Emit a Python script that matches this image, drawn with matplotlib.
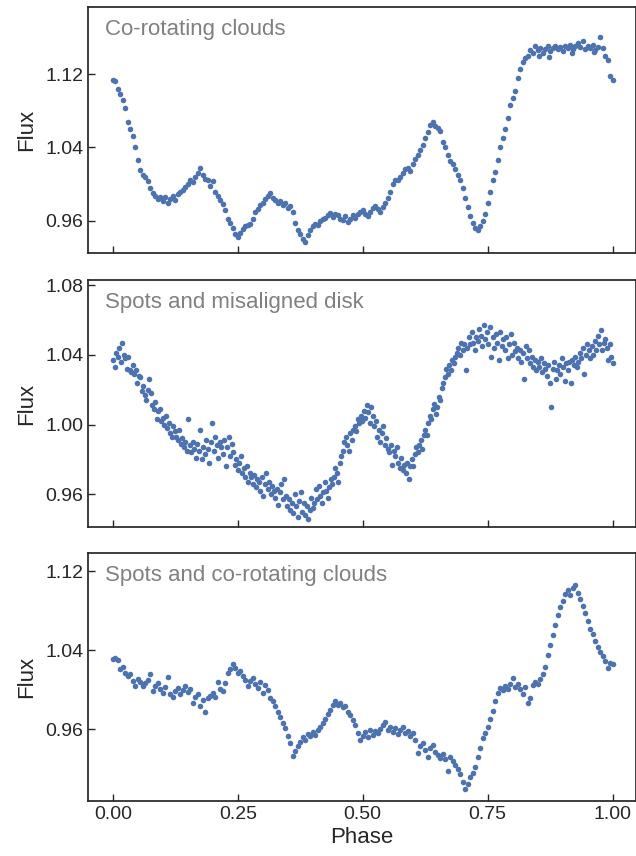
import numpy as np
import matplotlib
matplotlib.use("Agg")
import matplotlib.pyplot as plt

# (phase, flux)
clouds_pts = [
    (0.000, 1.114), (0.005, 1.112), (0.010, 1.104), (0.015, 1.098), (0.020, 1.092),
    (0.025, 1.083), (0.030, 1.068), (0.035, 1.060), (0.040, 1.052), (0.045, 1.040),
    (0.050, 1.026), (0.055, 1.015), (0.060, 1.010), (0.065, 1.008), (0.070, 1.003),
    (0.075, 0.996), (0.080, 0.990), (0.085, 0.987), (0.090, 0.984), (0.095, 0.986),
    (0.100, 0.982), (0.105, 0.986), (0.110, 0.980), (0.115, 0.984), (0.120, 0.987),
    (0.125, 0.983), (0.130, 0.989), (0.135, 0.992), (0.140, 0.994), (0.145, 0.997),
    (0.150, 1.000), (0.155, 1.004), (0.160, 1.002), (0.165, 1.008), (0.170, 1.012),
    (0.175, 1.018), (0.180, 1.010), (0.185, 1.006), (0.190, 1.004), (0.195, 0.998),
    (0.200, 1.003), (0.205, 0.992), (0.210, 0.987), (0.215, 0.983), (0.220, 0.978),
    (0.225, 0.972), (0.230, 0.962), (0.235, 0.958), (0.240, 0.952), (0.245, 0.946),
    (0.250, 0.942), (0.255, 0.947), (0.260, 0.951), (0.265, 0.954), (0.270, 0.956),
    (0.275, 0.957), (0.280, 0.962), (0.285, 0.970), (0.290, 0.973), (0.295, 0.977),
    (0.300, 0.980), (0.305, 0.984), (0.310, 0.987), (0.315, 0.990), (0.320, 0.985),
    (0.325, 0.983), (0.330, 0.980), (0.335, 0.982), (0.340, 0.977), (0.345, 0.979),
    (0.350, 0.974), (0.355, 0.976), (0.360, 0.970), (0.365, 0.958), (0.370, 0.950),
    (0.375, 0.946), (0.380, 0.940), (0.385, 0.937), (0.390, 0.945), (0.395, 0.950),
    (0.400, 0.954), (0.405, 0.957), (0.410, 0.955), (0.415, 0.960), (0.420, 0.962),
    (0.425, 0.963), (0.430, 0.966), (0.435, 0.969), (0.440, 0.964), (0.445, 0.968),
    (0.450, 0.966), (0.455, 0.962), (0.460, 0.961), (0.465, 0.965), (0.470, 0.959),
    (0.475, 0.962), (0.480, 0.966), (0.485, 0.963), (0.490, 0.967), (0.495, 0.970),
    (0.500, 0.972), (0.505, 0.968), (0.510, 0.965), (0.515, 0.970), (0.520, 0.974),
    (0.525, 0.976), (0.530, 0.973), (0.535, 0.970), (0.540, 0.975), (0.545, 0.980),
    (0.550, 0.985), (0.555, 0.992), (0.560, 1.000), (0.565, 1.005), (0.570, 1.004),
    (0.575, 1.008), (0.580, 1.012), (0.585, 1.016), (0.590, 1.018), (0.595, 1.014),
    (0.600, 1.022), (0.605, 1.027), (0.610, 1.032), (0.615, 1.037), (0.620, 1.043),
    (0.625, 1.050), (0.630, 1.057), (0.635, 1.064), (0.640, 1.068), (0.645, 1.063),
    (0.650, 1.061), (0.655, 1.058), (0.660, 1.046), (0.665, 1.040), (0.670, 1.032),
    (0.675, 1.025), (0.680, 1.022), (0.685, 1.016), (0.690, 1.010), (0.695, 1.004),
    (0.700, 0.996), (0.705, 0.985), (0.710, 0.975), (0.715, 0.965), (0.720, 0.958),
    (0.725, 0.952), (0.730, 0.950), (0.735, 0.954), (0.740, 0.960), (0.745, 0.968),
    (0.750, 0.980), (0.755, 0.992), (0.760, 1.004), (0.765, 1.013), (0.770, 1.026),
    (0.775, 1.041), (0.780, 1.050), (0.785, 1.060), (0.790, 1.072), (0.795, 1.086),
    (0.800, 1.094), (0.805, 1.102), (0.810, 1.116), (0.815, 1.126), (0.820, 1.133),
    (0.825, 1.137), (0.830, 1.140), (0.835, 1.146), (0.840, 1.143), (0.845, 1.150),
    (0.850, 1.146), (0.852, 1.140), (0.855, 1.148), (0.860, 1.143), (0.865, 1.147),
    (0.870, 1.150), (0.872, 1.139), (0.875, 1.145), (0.880, 1.148), (0.885, 1.151),
    (0.890, 1.147), (0.895, 1.149), (0.900, 1.145), (0.905, 1.150), (0.910, 1.148),
    (0.915, 1.152), (0.918, 1.143), (0.920, 1.147), (0.925, 1.150), (0.930, 1.154),
    (0.935, 1.149), (0.940, 1.156), (0.945, 1.147), (0.950, 1.151), (0.955, 1.148),
    (0.960, 1.152), (0.962, 1.144), (0.965, 1.146), (0.970, 1.149), (0.975, 1.160),
    (0.980, 1.148), (0.985, 1.140), (0.990, 1.135), (0.995, 1.118), (1.000, 1.114),
]

disk_pts = [
    (0.000, 1.037), (0.004, 1.033), (0.007, 1.041), (0.010, 1.039), (0.013, 1.044),
    (0.016, 1.036), (0.019, 1.047), (0.022, 1.040), (0.025, 1.038), (0.028, 1.032),
    (0.031, 1.039), (0.034, 1.031), (0.037, 1.030), (0.040, 1.034), (0.043, 1.029),
    (0.046, 1.031), (0.049, 1.024), (0.052, 1.028), (0.055, 1.027), (0.058, 1.019),
    (0.061, 1.022), (0.064, 1.017), (0.067, 1.014), (0.070, 1.020), (0.073, 1.026),
    (0.076, 1.018), (0.079, 1.011), (0.082, 1.009), (0.085, 1.013), (0.088, 1.003),
    (0.091, 1.008), (0.094, 1.009), (0.097, 1.002), (0.100, 1.004), (0.103, 1.000),
    (0.106, 1.005), (0.109, 0.998), (0.112, 1.001), (0.115, 0.995), (0.118, 0.993),
    (0.121, 0.999), (0.124, 0.996), (0.127, 0.993), (0.130, 0.991), (0.133, 0.997),
    (0.136, 0.989), (0.139, 0.992), (0.142, 0.987), (0.145, 0.990), (0.148, 0.985),
    (0.151, 1.003), (0.154, 0.988), (0.157, 0.984), (0.160, 0.990), (0.163, 0.986),
    (0.166, 0.981), (0.169, 0.989), (0.172, 0.985), (0.175, 0.997), (0.178, 0.980),
    (0.181, 0.987), (0.184, 0.983), (0.187, 0.991), (0.190, 0.986), (0.193, 0.978),
    (0.196, 0.990), (0.199, 1.001), (0.202, 0.985), (0.205, 0.993), (0.208, 0.988),
    (0.211, 0.981), (0.214, 0.990), (0.217, 0.987), (0.220, 0.983), (0.223, 0.991),
    (0.226, 0.976), (0.229, 0.987), (0.232, 0.993), (0.235, 0.982), (0.238, 0.989),
    (0.241, 0.984), (0.244, 0.977), (0.247, 0.980), (0.250, 0.974), (0.253, 0.978),
    (0.256, 0.982), (0.259, 0.972), (0.262, 0.975), (0.265, 0.970), (0.268, 0.976),
    (0.271, 0.967), (0.274, 0.972), (0.277, 0.970), (0.280, 0.966), (0.283, 0.971),
    (0.286, 0.964), (0.289, 0.969), (0.292, 0.967), (0.295, 0.962), (0.298, 0.970),
    (0.301, 0.959), (0.304, 0.966), (0.307, 0.972), (0.310, 0.963), (0.313, 0.967),
    (0.316, 0.960), (0.319, 0.965), (0.322, 0.962), (0.325, 0.958), (0.328, 0.963),
    (0.331, 0.954), (0.334, 0.961), (0.337, 0.966), (0.340, 0.957), (0.343, 0.969),
    (0.346, 0.959), (0.349, 0.953), (0.352, 0.957), (0.355, 0.951), (0.358, 0.955),
    (0.361, 0.949), (0.364, 0.960), (0.367, 0.953), (0.370, 0.947), (0.373, 0.956),
    (0.376, 0.961), (0.379, 0.950), (0.382, 0.955), (0.385, 0.948), (0.388, 0.953),
    (0.391, 0.946), (0.394, 0.951), (0.397, 0.958), (0.400, 0.952), (0.403, 0.955),
    (0.406, 0.963), (0.409, 0.957), (0.412, 0.965), (0.415, 0.959), (0.418, 0.955),
    (0.421, 0.961), (0.424, 0.967), (0.427, 0.962), (0.430, 0.958), (0.433, 0.964),
    (0.436, 0.969), (0.439, 0.966), (0.442, 0.970), (0.445, 0.975), (0.448, 0.972),
    (0.451, 0.967), (0.454, 0.978), (0.457, 0.982), (0.460, 0.985), (0.463, 0.990),
    (0.466, 0.993), (0.469, 0.988), (0.472, 0.985), (0.475, 0.995), (0.478, 0.991),
    (0.481, 0.997), (0.484, 0.999), (0.487, 0.996), (0.490, 1.003), (0.493, 1.001),
    (0.496, 1.005), (0.499, 1.002), (0.502, 1.008), (0.505, 1.004), (0.508, 1.011),
    (0.511, 1.007), (0.514, 1.001), (0.517, 1.010), (0.520, 1.005), (0.523, 0.999),
    (0.526, 1.002), (0.529, 0.993), (0.532, 0.997), (0.535, 0.990), (0.538, 0.995),
    (0.541, 0.999), (0.544, 0.988), (0.547, 0.992), (0.550, 0.986), (0.553, 0.984),
    (0.556, 0.988), (0.559, 0.977), (0.562, 0.985), (0.565, 0.982), (0.568, 0.987),
    (0.571, 0.978), (0.574, 0.975), (0.577, 0.981), (0.580, 0.974), (0.583, 0.977),
    (0.586, 0.972), (0.589, 0.978), (0.592, 0.969), (0.595, 0.976), (0.598, 0.980),
    (0.601, 0.976), (0.604, 0.983), (0.607, 0.987), (0.610, 0.984), (0.613, 0.988),
    (0.616, 0.991), (0.619, 0.986), (0.622, 0.994), (0.625, 0.997), (0.628, 0.994),
    (0.631, 1.001), (0.634, 1.005), (0.637, 1.003), (0.640, 1.009), (0.643, 1.012),
    (0.646, 1.006), (0.649, 1.010), (0.652, 1.016), (0.655, 1.014), (0.658, 1.021),
    (0.661, 1.024), (0.664, 1.027), (0.667, 1.032), (0.670, 1.029), (0.673, 1.034),
    (0.676, 1.031), (0.679, 1.037), (0.682, 1.035), (0.685, 1.039), (0.688, 1.041),
    (0.691, 1.044), (0.694, 1.040), (0.697, 1.047), (0.700, 1.043), (0.703, 1.046),
    (0.706, 1.031), (0.709, 1.044), (0.712, 1.050), (0.715, 1.046), (0.718, 1.053),
    (0.721, 1.047), (0.724, 1.043), (0.727, 1.050), (0.730, 1.048), (0.733, 1.055),
    (0.736, 1.051), (0.739, 1.045), (0.742, 1.057), (0.745, 1.049), (0.748, 1.053),
    (0.751, 1.046), (0.754, 1.056), (0.757, 1.039), (0.760, 1.050), (0.763, 1.044),
    (0.766, 1.052), (0.769, 1.047), (0.772, 1.037), (0.775, 1.053), (0.778, 1.045),
    (0.781, 1.049), (0.784, 1.043), (0.787, 1.050), (0.790, 1.038), (0.793, 1.046),
    (0.796, 1.052), (0.799, 1.040), (0.802, 1.047), (0.805, 1.042), (0.808, 1.044),
    (0.811, 1.038), (0.814, 1.043), (0.817, 1.036), (0.820, 1.041), (0.823, 1.026),
    (0.826, 1.045), (0.829, 1.038), (0.832, 1.043), (0.835, 1.035), (0.838, 1.039),
    (0.841, 1.033), (0.844, 1.037), (0.847, 1.031), (0.850, 1.036), (0.853, 1.033),
    (0.856, 1.038), (0.859, 1.030), (0.862, 1.035), (0.865, 1.032), (0.868, 1.028),
    (0.871, 1.034), (0.874, 1.024), (0.877, 1.010), (0.880, 1.032), (0.883, 1.036),
    (0.886, 1.026), (0.889, 1.031), (0.892, 1.034), (0.895, 1.029), (0.898, 1.038),
    (0.901, 1.033), (0.904, 1.025), (0.907, 1.035), (0.910, 1.031), (0.913, 1.036),
    (0.916, 1.024), (0.919, 1.037), (0.922, 1.034), (0.925, 1.039), (0.928, 1.033),
    (0.931, 1.036), (0.934, 1.041), (0.937, 1.038), (0.940, 1.044), (0.943, 1.029),
    (0.946, 1.040), (0.949, 1.046), (0.952, 1.043), (0.955, 1.038), (0.958, 1.045),
    (0.961, 1.040), (0.964, 1.048), (0.967, 1.043), (0.970, 1.051), (0.973, 1.046),
    (0.976, 1.054), (0.979, 1.043), (0.982, 1.047), (0.985, 1.049), (0.988, 1.044),
    (0.991, 1.037), (0.994, 1.046), (0.997, 1.039), (1.000, 1.035),
]

spots_clouds_pts = [
    (0.000, 1.031), (0.005, 1.032), (0.010, 1.030), (0.015, 1.021), (0.020, 1.023),
    (0.025, 1.017), (0.030, 1.014), (0.035, 1.016), (0.040, 1.009), (0.045, 1.004),
    (0.050, 1.011), (0.055, 1.008), (0.060, 1.004), (0.065, 1.007), (0.070, 1.010),
    (0.075, 1.016), (0.080, 0.999), (0.085, 1.004), (0.090, 1.007), (0.095, 1.001),
    (0.100, 0.997), (0.105, 1.003), (0.110, 1.013), (0.115, 0.996), (0.120, 0.993),
    (0.125, 0.999), (0.130, 1.002), (0.135, 0.996), (0.140, 1.000), (0.145, 1.004),
    (0.150, 0.998), (0.155, 1.001), (0.160, 0.986), (0.165, 0.993), (0.170, 0.996),
    (0.175, 0.983), (0.180, 0.989), (0.185, 0.977), (0.190, 0.991), (0.195, 0.994),
    (0.200, 0.997), (0.205, 0.993), (0.210, 1.008), (0.215, 1.001), (0.220, 0.999),
    (0.225, 1.007), (0.230, 1.017), (0.235, 1.021), (0.240, 1.026), (0.245, 1.022),
    (0.250, 1.017), (0.255, 1.019), (0.260, 1.014), (0.265, 1.010), (0.270, 1.004),
    (0.275, 1.009), (0.280, 1.012), (0.285, 1.006), (0.290, 1.002), (0.295, 1.008),
    (0.300, 0.997), (0.305, 1.005), (0.310, 1.000), (0.315, 0.991), (0.320, 0.988),
    (0.325, 0.983), (0.330, 0.977), (0.335, 0.972), (0.340, 0.966), (0.345, 0.961),
    (0.350, 0.953), (0.355, 0.946), (0.360, 0.933), (0.365, 0.938), (0.370, 0.943),
    (0.375, 0.947), (0.380, 0.952), (0.385, 0.949), (0.390, 0.955), (0.395, 0.953),
    (0.400, 0.957), (0.405, 0.954), (0.410, 0.959), (0.415, 0.962), (0.420, 0.966),
    (0.425, 0.970), (0.430, 0.975), (0.435, 0.979), (0.440, 0.984), (0.445, 0.988),
    (0.450, 0.984), (0.455, 0.986), (0.460, 0.982), (0.465, 0.983), (0.470, 0.977),
    (0.475, 0.974), (0.480, 0.969), (0.485, 0.964), (0.490, 0.956), (0.495, 0.949),
    (0.500, 0.953), (0.505, 0.957), (0.510, 0.952), (0.515, 0.959), (0.520, 0.954),
    (0.525, 0.958), (0.530, 0.956), (0.535, 0.960), (0.540, 0.964), (0.545, 0.967),
    (0.550, 0.959), (0.555, 0.962), (0.560, 0.957), (0.565, 0.961), (0.570, 0.955),
    (0.575, 0.959), (0.580, 0.962), (0.585, 0.956), (0.590, 0.958), (0.595, 0.953),
    (0.600, 0.956), (0.605, 0.949), (0.610, 0.936), (0.615, 0.943), (0.620, 0.946),
    (0.625, 0.939), (0.630, 0.932), (0.635, 0.941), (0.640, 0.944), (0.645, 0.937),
    (0.650, 0.934), (0.655, 0.931), (0.660, 0.935), (0.665, 0.930), (0.670, 0.917),
    (0.675, 0.932), (0.680, 0.928), (0.685, 0.924), (0.690, 0.919), (0.695, 0.914),
    (0.700, 0.906), (0.705, 0.899), (0.710, 0.904), (0.715, 0.911), (0.720, 0.915),
    (0.725, 0.922), (0.730, 0.932), (0.735, 0.941), (0.740, 0.951), (0.745, 0.956),
    (0.750, 0.962), (0.755, 0.970), (0.760, 0.978), (0.765, 0.988), (0.770, 0.997),
    (0.775, 1.002), (0.780, 1.000), (0.785, 1.004), (0.790, 1.001), (0.795, 1.006),
    (0.800, 1.012), (0.805, 1.003), (0.810, 1.006), (0.815, 1.001), (0.820, 0.996),
    (0.825, 1.003), (0.830, 0.986), (0.835, 0.992), (0.840, 1.005), (0.845, 1.008),
    (0.850, 1.006), (0.855, 1.011), (0.860, 1.016), (0.865, 1.023), (0.870, 1.035),
    (0.875, 1.045), (0.880, 1.055), (0.885, 1.066), (0.890, 1.076), (0.895, 1.084),
    (0.900, 1.090), (0.905, 1.097), (0.910, 1.101), (0.915, 1.096), (0.920, 1.103),
    (0.925, 1.106), (0.930, 1.098), (0.935, 1.092), (0.940, 1.085), (0.945, 1.078),
    (0.950, 1.070), (0.955, 1.062), (0.960, 1.056), (0.965, 1.049), (0.970, 1.043),
    (0.975, 1.038), (0.980, 1.034), (0.985, 1.029), (0.990, 1.022), (0.995, 1.027),
    (1.000, 1.026),
]

titles = ["Co-rotating clouds", "Spots and misaligned disk", "Spots and co-rotating clouds"]
ylims = [(0.925, 1.193), (0.9412, 1.0829), (0.887, 1.1386)]
yticks = [[0.96, 1.04, 1.12], [0.96, 1.00, 1.04, 1.08], [0.96, 1.04, 1.12]]
xticks = [0.0, 0.25, 0.5, 0.75, 1.0]

plt.rcParams['font.family'] = ['Liberation Sans', 'DejaVu Sans']
plt.rcParams['axes.edgecolor'] = '#262626'
plt.rcParams['axes.linewidth'] = 1.25

W, H = 636, 856
fig = plt.figure(figsize=(W / 100, H / 100), dpi=100)

# axes boxes in pixels: (top, bottom)
boxes = [(7, 253), (280, 527), (553, 801)]
left, right = 88, 635.5

for i, (pts, title) in enumerate(zip([clouds_pts, disk_pts, spots_clouds_pts], titles)):
    top, bot = boxes[i]
    ax = fig.add_axes([left / W, 1 - bot / H, (right - left) / W, (bot - top) / H])
    arr = np.array(pts)
    ax.scatter(arr[:, 0], arr[:, 1], s=16, color='#4c72b0', linewidths=0)
    ax.set_xlim(-0.05, 1.046)
    ax.set_ylim(*ylims[i])
    ax.set_yticks(yticks[i])
    ax.set_yticklabels(["%.2f" % v for v in yticks[i]])
    ax.set_xticks(xticks)
    ax.tick_params(direction='in', length=5, width=1.0, color='#262626',
                   labelsize=14, labelcolor='#262626', top=False, right=False)
    if i < 2:
        ax.set_xticklabels([])
    else:
        ax.set_xticklabels(["%.2f" % v for v in xticks])
        ax.set_xlabel("Phase", fontsize=16, color='#262626', labelpad=3)
    ax.set_ylabel("Flux", fontsize=16, color='#262626', labelpad=6)
    ax.text(0.031, 0.953, title, transform=ax.transAxes, fontsize=16,
            color='#808080', va='top', ha='left')

fig.savefig("out.png", dpi=100)
